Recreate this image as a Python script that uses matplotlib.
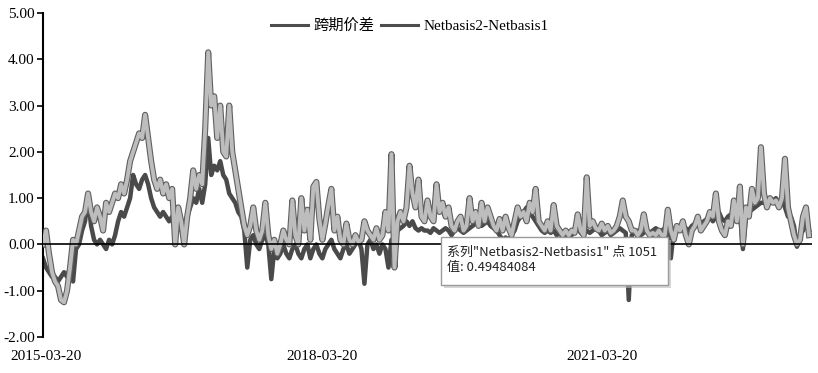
import numpy as np
import matplotlib
matplotlib.use("Agg")
import matplotlib.pyplot as plt
import matplotlib.patheffects as pe
from matplotlib.patches import Rectangle

plt.rcParams['font.family'] = ['Liberation Serif', 'Noto Sans CJK SC', 'DejaVu Sans']

# Netbasis2-Netbasis1 (light series)
netbasis = [
    0.0, 0.3, -0.2, -0.6, -0.8, -0.9, -1.2, -1.25, -1.0, -0.5,
    0.1, 0.0, 0.3, 0.6, 0.7, 1.1, 0.7, 0.5, 0.8, 0.6,
    0.3, 0.9, 0.7, 0.9, 1.1, 1.0, 1.3, 1.1, 1.4, 1.8,
    2.0, 2.2, 2.4, 2.3, 2.8, 2.3, 1.8, 1.4, 1.2, 1.4,
    1.1, 1.3, 1.0, 1.2, 0.0, 0.8, 0.5, 0.0, 0.6, 1.0,
    1.6, 1.2, 1.5, 1.3, 2.5, 4.15, 3.0, 3.2, 2.3, 3.0,
    2.0, 1.9, 3.0, 2.0, 1.6, 1.2, 0.8, 0.4, 0.2, 0.4,
    0.8, 0.3, 0.1, 0.3, 0.9, 0.2, -0.1, 0.1, -0.2, 0.0,
    0.3, 0.1, 0.0, 0.95, 0.2, 0.0, 1.0, 0.3, 0.75, 0.1,
    1.25, 1.35, 0.55, 0.1, 0.45, 0.85, 1.2, 0.3, 0.6, 0.1,
    0.0, 0.45, 0.1, 0.0, 0.2, 0.05, 0.1, 0.5, 0.3, 0.2,
    0.1, 0.35, 0.1, 0.2, 0.7, 0.3, 1.95, -0.5, 0.5, 0.7,
    0.5, 0.8, 1.7, 1.1, 0.8, 1.4, 0.6, 0.5, 0.95, 0.6,
    0.5, 1.3, 0.7, 0.9, 0.6, 0.8, 0.4, 0.3, 0.5, 0.6,
    0.3, 0.4, 1.0, 0.5, 0.7, 0.4, 0.9, 0.5, 0.8, 0.6,
    0.4, 0.3, 0.55, 0.3, 0.6, 0.35, 0.2, 0.5, 0.8, 0.6,
    0.7, 0.5, 0.9, 0.7, 1.2, 0.5, 0.4, 0.3, 0.5, 0.3,
    0.85, 0.4, 0.3, 0.2, 0.3, 0.2, 0.3, 0.25, 0.65, 0.3,
    0.2, 1.45, 0.4, 0.5, 0.35, 0.3, 0.45, 0.3, 0.4, 0.25,
    0.3, 0.4, 0.6, 0.95, 0.6, 0.5, 0.3, 0.3, 0.2, 0.3,
    0.65, 0.3, 0.2, 0.25, 0.2, 0.3, 0.2, 0.2, 0.75, 0.3,
    0.1, 0.4, 0.3, 0.5, 0.2, 0.0, 0.3, 0.4, 0.6, 0.3,
    0.4, 0.5, 0.7, 0.6, 1.1, 0.5, 0.3, 0.2, 0.5, 0.4,
    0.95, 0.5, 1.25, 0.0, 0.8, 0.6, 1.2, 0.9, 1.0, 2.1,
    1.1, 0.8, 1.0, 0.9, 0.95, 0.8, 1.0, 1.85, 0.8, 0.5,
    0.2, 0.0, 0.1, 0.6, 0.8, 0.2,
]

# 跨期价差 (dark series)
spread = [
    -0.3, -0.5, -0.6, -0.7, -0.7, -0.8, -0.7, -0.6, -0.7, -0.5,
    -0.8, -0.1, 0.0, 0.3, 0.5, 1.0, 0.4, 0.1, 0.0, 0.1,
    0.0, -0.1, 0.1, 0.0, 0.2, 0.5, 0.7, 0.6, 0.8, 1.0,
    1.5, 1.3, 1.2, 1.4, 1.5, 1.3, 1.0, 0.8, 0.7, 0.6,
    0.7, 0.6, 0.5, 0.6, 0.4, 0.3, 0.5, 0.4, 0.6, 0.8,
    1.0, 0.9, 1.2, 0.9, 1.3, 2.3, 1.5, 1.7, 1.6, 1.8,
    1.5, 1.4, 1.1, 1.0, 0.9, 0.7, 0.6, 0.3, -0.5, 0.1,
    0.2, 0.0, -0.1, 0.1, 0.2, 0.0, -0.75, -0.1, -0.3, -0.2,
    0.0, -0.2, -0.3, -0.1, 0.0, -0.2, -0.3, -0.1, 0.0, -0.3,
    -0.1, 0.0, -0.2, -0.3, -0.1, 0.0, 0.1, -0.1, -0.2, -0.3,
    -0.1, 0.0, -0.2, -0.1, 0.0, 0.1, -0.1, -0.85, 0.0, 0.1,
    -0.1, 0.0, -0.2, 0.0, -0.1, -0.5, 0.1, 0.0, 0.3, 0.35,
    0.4, 0.5, 0.4, 0.5, 0.35, 0.3, 0.35, 0.3, 0.3, 0.25,
    0.35, 0.3, 0.25, 0.3, 0.35, 0.3, 0.2, 0.3, 0.35, 0.3,
    0.25, 0.3, 0.35, 0.4, 0.45, 0.5, 0.4, 0.45, 0.5, 0.4,
    0.35, 0.3, 0.2, 0.1, 0.15, 0.1, 0.2, 0.3, 0.5, 0.6,
    0.7, 0.8, 0.7, 0.6, 0.5, 0.4, 0.3, 0.25, 0.3, 0.25,
    0.3, 0.2, 0.25, 0.15, 0.2, 0.25, 0.2, 0.3, 0.35, 0.25,
    0.2, 0.3, 0.25, 0.3, 0.35, 0.3, 0.2, 0.25, 0.3, 0.2,
    0.25, 0.3, 0.35, 0.3, 0.25, -1.2, 0.2, 0.25, 0.3, 0.2,
    0.25, 0.3, 0.25, 0.3, 0.35, 0.3, 0.3, 0.35, 0.4, -0.3,
    0.3, 0.35, 0.4, 0.3, 0.35, 0.3, 0.4, 0.45, 0.5, 0.4,
    0.5, 0.55, 0.6, 0.5, 0.6, 0.7, 0.55, 0.5, 0.6, 0.65,
    0.7, 0.6, 0.7, -0.1, 0.6, 0.7, 0.75, 0.8, 0.85, 0.9,
    0.9, 0.95, 1.0, 0.95, 1.0, 0.9, 0.95, 0.8, 0.6, 0.6,
    0.4, -0.05, 0.2, 0.3, 0.4, 0.3,
]

tick_pos = [1, 93, 186]
tick_labels = ['2015-03-20', '2018-03-20', '2021-03-20']
y_ticks = [-2, -1, 0, 1, 2, 3, 4, 5]

W, H = 818, 373
fig = plt.figure(figsize=(W / 100, H / 100), dpi=100)
ax = fig.add_axes([43 / W, 1 - 337 / H, (812 - 43) / W, (337 - 13) / H])

x = np.arange(len(netbasis))
x2 = np.arange(len(spread))

ax.plot(x2, spread, color='#4a4a4a', lw=3.2, zorder=2, label='跨期价差')
ax.plot(x, netbasis, color='#bdbdbd', lw=2.8, zorder=3, label='Netbasis2-Netbasis1',
        path_effects=[pe.Stroke(linewidth=4.4, foreground='#606060'), pe.Normal()])
ax.axhline(0, color='black', lw=1.2, zorder=4)

ax.set_ylim(-2, 5)
ax.set_xlim(0, 256)
ax.set_yticks(y_ticks)
ax.set_yticklabels([f'{v:.2f}' for v in y_ticks])
ax.set_xticks(tick_pos)
ax.set_xticklabels(tick_labels)
for s in ['top', 'right', 'bottom']:
    ax.spines[s].set_visible(False)
ax.spines['left'].set_linewidth(1.5)
ax.tick_params(axis='y', direction='out', length=4, width=1.2, labelsize=11, pad=2)
ax.tick_params(axis='x', length=0, labelsize=11, pad=9)

leg = ax.legend(loc='center', bbox_to_anchor=((410 - 43) / 769, (337 - 26) / 324), ncol=2,
                frameon=False, fontsize=11, handlelength=2.4, columnspacing=0.4,
                handletextpad=0.4)
for line in leg.get_lines():
    line.set_path_effects([])
    line.set_color('#4d4d4d')
    line.set_linewidth(2.2)

# tooltip
def fx(px):
    return px / W

def fy(py):
    return 1 - py / H

shadow = Rectangle((fx(444), fy(288)), fx(227), 48 / H, transform=fig.transFigure,
                   facecolor='#bbbbbb', edgecolor='none', zorder=10, alpha=0.6)
box = Rectangle((fx(441), fy(285)), fx(227), 48 / H, transform=fig.transFigure,
                facecolor='white', edgecolor='#9a9a9a', lw=1.0, zorder=11)
fig.patches.extend([shadow, box])
fig.text(fx(447), fy(252), '系列"Netbasis2-Netbasis1" 点 1051', fontsize=9.4,
         family=['Noto Sans CJK SC', 'DejaVu Sans'], va='center', ha='left', color='#222222', zorder=12)
fig.text(fx(447), fy(268), '值: 0.49484084', fontsize=9.4,
         family=['Noto Sans CJK SC', 'DejaVu Sans'], va='center', ha='left', color='#222222', zorder=12)

fig.savefig('out.png', dpi=100)
